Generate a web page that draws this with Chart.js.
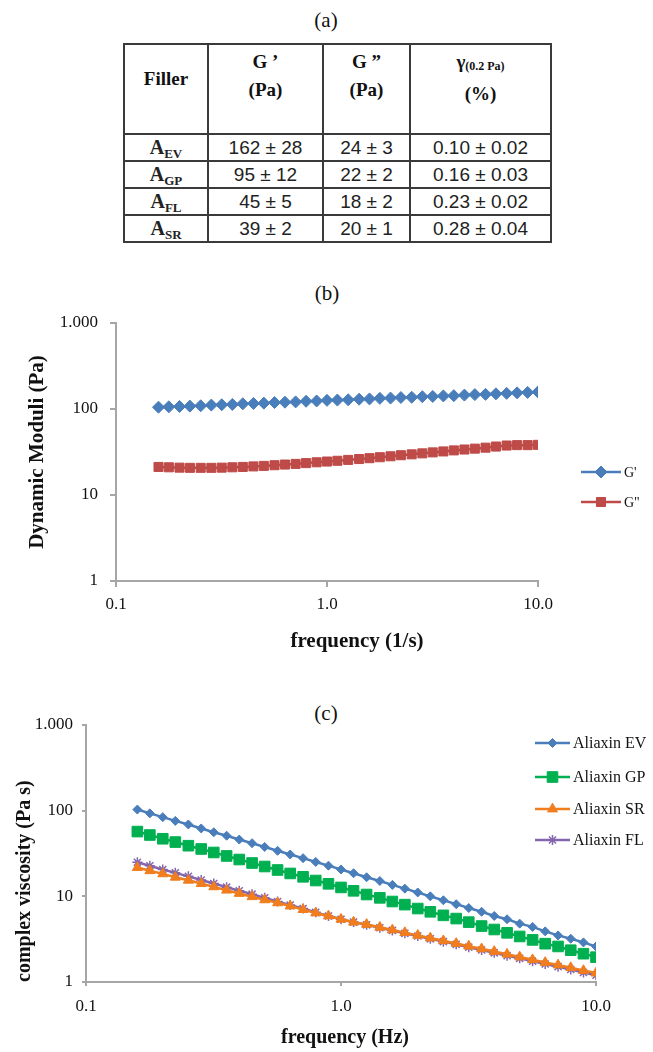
<!DOCTYPE html>
<html>
<head>
<meta charset="utf-8">
<script src="https://cdn.jsdelivr.net/npm/chart.js@4.4.1/dist/chart.umd.min.js"></script>
<style>
html, body { margin: 0; padding: 0; background: #fff; }
body { width: 653px; height: 1052px; position: relative; overflow: hidden; }
.panel { position: absolute; font-family: "Liberation Serif", serif; font-size: 21px; color: #111; transform: translate(-50%, -50%); }
#tbl { position: absolute; left: 123px; top: 43px; width: 427px; border-collapse: collapse; table-layout: fixed; }
#tbl th, #tbl td { border: 2px solid #3a3a3a; padding: 0; text-align: center; }
#tbl th { font-family: "Liberation Serif", serif; font-weight: bold; font-size: 19px; line-height: 28px; height: 85px;
          vertical-align: top; padding-top: 3px; color: #111; }
#tbl th.first { padding-top: 20px; height: 68px; }
#tbl th sub { font-size: 12px; vertical-align: -2px; }
#tbl td { font-family: "Liberation Sans", sans-serif; font-size: 19px; height: 25px; line-height: 22px; color: #222; }
#tbl td.fl { font-family: "Liberation Serif", serif; font-weight: bold; font-size: 20px; }
#tbl td.fl sub { font-size: 13px; vertical-align: -4px; line-height: 10px; }
canvas { position: absolute; left: 0; }
</style>
</head>
<body>
<div class="panel" style="left:326px;top:20px">(a)</div>
<table id="tbl">
  <colgroup><col style="width:84px"><col style="width:115px"><col style="width:87px"><col style="width:141px"></colgroup>
  <thead>
    <tr><th class="first">Filler</th><th>G ’<br>(Pa)</th><th>G ”<br>(Pa)</th><th>γ<sub>(0.2 Pa)</sub><br>(%)</th></tr>
  </thead>
  <tbody id="tbody"></tbody>
</table>

<div class="panel" style="left:327px;top:293px">(b)</div>
<canvas id="chartB" width="653" height="390" style="top:300px"></canvas>

<div class="panel" style="left:326px;top:713px">(c)</div>
<canvas id="chartC" width="653" height="352" style="top:700px"></canvas>

<script>
// Table (a)
const fillerSubs = ['EV', 'GP', 'FL', 'SR'];
const gPrimeCells = ['162 ± 28', '95 ± 12', '45 ± 5', '39 ± 2'];
const gDoubleCells = ['24 ± 3', '22 ± 2', '18 ± 2', '20 ± 1'];
const gammaCells = ['0.10 ± 0.02', '0.16 ± 0.03', '0.23 ± 0.02', '0.28 ± 0.04'];

// Shared frequency values (Hz)
const freq = [0.159, 0.178, 0.200, 0.224, 0.252, 0.283, 0.317, 0.356, 0.399, 0.448,
              0.502, 0.564, 0.632, 0.710, 0.796, 0.893, 1.00, 1.12, 1.26, 1.42,
              1.59, 1.78, 2.00, 2.24, 2.52, 2.83, 3.17, 3.56, 3.99, 4.48,
              5.02, 5.64, 6.32, 7.10, 7.96, 8.93, 10.0];

// Chart (b): dynamic moduli
const gPrime = [105, 106, 107, 108, 109, 111, 112, 113, 115, 116,
                117, 119, 120, 121, 123, 124, 126, 127, 128, 130,
                131, 133, 134, 136, 137, 139, 140, 142, 143, 145,
                147, 148, 150, 152, 154, 156, 158];
const gDouble = [21.2, 21.0, 20.8, 20.7, 20.7, 20.7, 20.8, 21.0, 21.2, 21.5,
                 21.8, 22.2, 22.6, 23.0, 23.5, 24.0, 24.5, 25.0, 25.6, 26.2,
                 26.8, 27.5, 28.2, 29.0, 29.7, 30.5, 31.3, 32.1, 33.0, 33.8,
                 34.6, 35.5, 36.6, 37.6, 38.0, 38.0, 38.3];

// Chart (c): complex viscosity
const aliaxinEV = [103, 93, 84, 76, 69, 62, 56, 51, 46, 41.7,
                   37.7, 34.0, 30.8, 27.9, 25.2, 22.8, 20.6, 18.6, 16.7, 15.1,
                   13.6, 12.3, 11.1, 10.0, 9.0, 8.1, 7.3, 6.6, 5.9, 5.4,
                   4.8, 4.4, 3.9, 3.5, 3.2, 2.9, 2.6];
const aliaxinGP = [57, 52, 47, 43, 39, 35.7, 32.5, 29.6, 26.9, 24.5,
                   22.3, 20.3, 18.5, 16.9, 15.3, 14.0, 12.7, 11.6, 10.5, 9.6,
                   8.7, 8.0, 7.2, 6.6, 6.0, 5.5, 5.0, 4.5, 4.1, 3.75,
                   3.4, 3.1, 2.8, 2.6, 2.35, 2.14, 1.95];
const aliaxinSR = [21.7, 19.9, 18.3, 16.7, 15.4, 14.1, 12.9, 11.8, 10.8, 9.9,
                   9.1, 8.4, 7.7, 7.0, 6.4, 5.9, 5.4, 5.0, 4.7, 4.35,
                   4.05, 3.77, 3.5, 3.26, 3.03, 2.82, 2.62, 2.44, 2.27, 2.11,
                   1.96, 1.82, 1.69, 1.58, 1.47, 1.36, 1.27];
const aliaxinFL = [25, 22.7, 20.6, 18.8, 17.1, 15.5, 14.1, 12.8, 11.6, 10.6,
                   9.6, 8.7, 7.9, 7.2, 6.5, 5.9, 5.4, 5.0, 4.65, 4.3,
                   4.0, 3.7, 3.44, 3.19, 2.96, 2.75, 2.55, 2.36, 2.19, 2.03,
                   1.89, 1.75, 1.62, 1.51, 1.40, 1.29, 1.2];

// Axis ticks
const xTickValues = [0.1, 1, 10];
const xTickLabels = ['0.1', '1.0', '10.0'];
const yTickValues = [1, 10, 100, 1000];
const yTickLabels = ['1', '10', '100', '1.000'];

// Build table rows
const tbody = document.getElementById('tbody');
fillerSubs.forEach((sub, i) => {
    const tr = document.createElement('tr');
    tr.innerHTML = `<td class="fl">A<sub>${sub}</sub></td><td>${gPrimeCells[i]}</td><td>${gDoubleCells[i]}</td><td>${gammaCells[i]}</td>`;
    tbody.appendChild(tr);
});

const toPoints = (ys) => ys.map((y, i) => ({ x: freq[i], y: y }));

// Draws the x axis title and the legend at fixed spots
const extras = {
    id: 'extras',
    afterDraw(chart, args, opts) {
        const ctx = chart.ctx;
        ctx.save();
        ctx.fillStyle = '#111';
        ctx.font = opts.titleFont;
        ctx.textAlign = 'center';
        ctx.textBaseline = 'middle';
        ctx.fillText(opts.xTitle, opts.xTitleX, opts.xTitleY);

        ctx.font = opts.legendFont;
        ctx.textAlign = 'left';
        chart.data.datasets.forEach((ds, i) => {
            const y = opts.legendY[i];
            ctx.strokeStyle = ds.borderColor;
            ctx.lineWidth = ds.borderWidth;
            ctx.beginPath();
            ctx.moveTo(opts.legendX0, y);
            ctx.lineTo(opts.legendX1, y);
            ctx.stroke();
            ctx.fillStyle = ds.pointBackgroundColor;
            ctx.strokeStyle = ds.pointBorderColor;
            ctx.lineWidth = ds.pointBorderWidth;
            Chart.helpers.drawPoint(ctx, {
                pointStyle: ds.pointStyle, radius: ds.pointRadius, rotation: 0, borderWidth: ds.pointBorderWidth
            }, (opts.legendX0 + opts.legendX1) / 2, y);
            ctx.fillStyle = '#111';
            ctx.fillText(ds.label, opts.legendX1 + 3, y + 1);
        });
        ctx.restore();
    }
};

function makeDataset(label, ys, color, style, radius, lineWidth, pbw) {
    return {
        label: label,
        data: toPoints(ys),
        borderColor: color,
        backgroundColor: color,
        borderWidth: lineWidth,
        pointStyle: style,
        pointRadius: radius,
        pointHoverRadius: radius,
        pointBackgroundColor: color,
        pointBorderColor: color,
        pointBorderWidth: pbw,
        tension: 0
    };
}

function axes(yWidth, xHeight, yTitle, yFont, yPad, yAlign, tickLen, yTickPad, xTickPad) {
    const tickFont = { family: 'Liberation Serif', size: 17 };
    const gridOpts = { drawOnChartArea: false, drawTicks: true, tickLength: tickLen, color: '#a6a6a6', lineWidth: 2 };
    return {
        x: {
            type: 'logarithmic', min: 0.1, max: 10,
            border: { color: '#a6a6a6', width: 2 },
            grid: gridOpts,
            ticks: { font: tickFont, color: '#111', padding: xTickPad, maxRotation: 0,
                     callback: (v, i) => xTickLabels[i] },
            afterBuildTicks: (scale) => { scale.ticks = xTickValues.map(v => ({ value: v })); },
            afterFit: (scale) => { scale.height = xHeight; }
        },
        y: {
            type: 'logarithmic', min: 1, max: 1000,
            border: { color: '#a6a6a6', width: 2 },
            grid: gridOpts,
            ticks: { font: tickFont, color: '#111', padding: yTickPad,
                     callback: (v, i) => yTickLabels[i] },
            afterBuildTicks: (scale) => { scale.ticks = yTickValues.map(v => ({ value: v })); },
            afterFit: (scale) => { scale.width = yWidth; },
            title: { display: true, text: yTitle, color: '#111', align: yAlign,
                     font: { family: 'Liberation Serif', size: yFont, weight: 'bold' },
                     padding: { top: yPad, bottom: 0 } }
        }
    };
}

// Chart (b)
new Chart(document.getElementById('chartB'), {
    type: 'line',
    data: {
        datasets: [
            makeDataset('G\'', gPrime, '#4a7ebb', 'rectRot', 6, 2.5, 1),
            makeDataset('G"', gDouble, '#be4b48', 'rect', 6.4, 2.5, 1)
        ]
    },
    options: {
        responsive: false,
        animation: false,
        layout: { padding: { left: 24, right: 115, top: 23, bottom: 49 } },
        scales: axes(92, 60, 'Dynamic Moduli (Pa)', 21, 1, 'center', 6, 12, 7),
        plugins: {
            legend: { display: false },
            tooltip: { enabled: false },
            extras: {
                xTitle: 'frequency (1/s)', xTitleX: 357, xTitleY: 342,
                titleFont: 'bold 21px "Liberation Serif"',
                legendFont: '14px "Liberation Serif"',
                legendX0: 581, legendX1: 621, legendY: [172, 202]
            }
        }
    },
    plugins: [extras]
});

// Chart (c)
new Chart(document.getElementById('chartC'), {
    type: 'line',
    data: {
        datasets: [
            makeDataset('Aliaxin EV', aliaxinEV, '#4a7ebb', 'rectRot', 4.5, 2.5, 1),
            makeDataset('Aliaxin GP', aliaxinGP, '#00b050', 'rect', 7.5, 2.5, 1),
            makeDataset('Aliaxin SR', aliaxinSR, '#f07d1e', 'triangle', 5.8, 2.5, 1),
            makeDataset('Aliaxin FL', aliaxinFL, '#8466ae', 'star', 5, 2.5, 1.5)
        ]
    },
    options: {
        responsive: false,
        animation: false,
        layout: { padding: { left: 12, right: 57, top: 25, bottom: 10 } },
        scales: axes(74, 60, 'complex viscosity (Pa s)', 20, 1, 'start', 4, 9, 10),
        plugins: {
            legend: { display: false },
            tooltip: { enabled: false },
            extras: {
                xTitle: 'frequency (Hz)', xTitleX: 345, xTitleY: 338,
                titleFont: 'bold 20px "Liberation Serif"',
                legendFont: '16px "Liberation Serif"',
                legendX0: 535, legendX1: 570, legendY: [43, 77, 109, 140]
            }
        }
    },
    plugins: [extras]
});
</script>
</body>
</html>
